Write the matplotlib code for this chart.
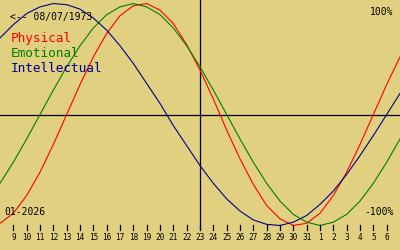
import matplotlib
matplotlib.use("Agg")
import matplotlib.pyplot as plt

# --- data: biorhythm values (%), one per day ---
# day offsets relative to the marked day (23 Jan), -15 .. +15
offsets = list(range(-15, 16))
day_labels = [8, 9, 10, 11, 12, 13, 14, 15, 16, 17, 18, 19, 20, 21, 22, 23,
              24, 25, 26, 27, 28, 29, 30, 31, 1, 2, 3, 4, 5, 6, 7]

physical = [-98, -89, -73, -52, -27, 0, 27, 52, 73, 89, 98, 100, 94, 82, 63, 40,
            14, -14, -40, -63, -82, -94, -100, -98, -89, -73, -52, -27, 0, 27, 52]
emotional = [-62, -43, -22, 0, 22, 43, 62, 78, 90, 97, 100, 97, 90, 78, 62, 43,
             22, 0, -22, -43, -62, -78, -90, -97, -100, -97, -90, -78, -62, -43, -22]
intellectual = [69, 81, 91, 97, 100, 99, 95, 87, 76, 62, 46, 28, 10, -10, -28, -46,
                -62, -76, -87, -95, -99, -100, -97, -91, -81, -69, -54, -37, -19, 0, 19]

birth_text = "<-- 08/07/1973"
month_text = "01-2026"

bg = "#e0d080"
mono = "DejaVu Sans Mono"

fig = plt.figure(figsize=(4, 2.5), dpi=100)
fig.patch.set_facecolor(bg)
ax = fig.add_axes([0, 0, 1, 1])
ax.set_facecolor(bg)
ax.set_xlim(-15, 15)
ax.set_ylim(-122.1, 103.2)
ax.axis("off")

# axes cross
ax.axhline(0, color="black", lw=0.9)
ax.plot([0, 0], [-103.5, 103.2], color="black", lw=0.9)

# curves
ax.plot(offsets, physical, color="#ff0000", lw=0.8)
ax.plot(offsets, emotional, color="#008000", lw=0.8)
ax.plot(offsets, intellectual, color="#000090", lw=0.8)

# day ticks and labels (skip the edge days)
for k, d in zip(offsets[1:-1], day_labels[1:-1]):
    ax.plot([k, k], [-99.5, -104], color="black", lw=0.9)
    ax.text(k, -110.5, str(d), ha="center", va="center", fontsize=5.6,
            family=mono, color="black")

# texts
ax.text(-14.25, 88, birth_text, ha="left", va="center", fontsize=7, family=mono)
ax.text(-14.2, 68.5, "Physical", ha="left", va="center", fontsize=9.2, family=mono, color="#ff0000")
ax.text(-14.2, 55, "Emotional", ha="left", va="center", fontsize=9.2, family=mono, color="#008000")
ax.text(-14.2, 41.5, "Intellectual", ha="left", va="center", fontsize=9.2, family=mono, color="#000090")
ax.text(14.5, 92.5, "100%", ha="right", va="center", fontsize=7, family=mono)
ax.text(14.5, -88, "-100%", ha="right", va="center", fontsize=7, family=mono)
ax.text(-14.65, -88, month_text, ha="left", va="center", fontsize=7, family=mono)

fig.savefig("out.png", dpi=100, facecolor=bg)
